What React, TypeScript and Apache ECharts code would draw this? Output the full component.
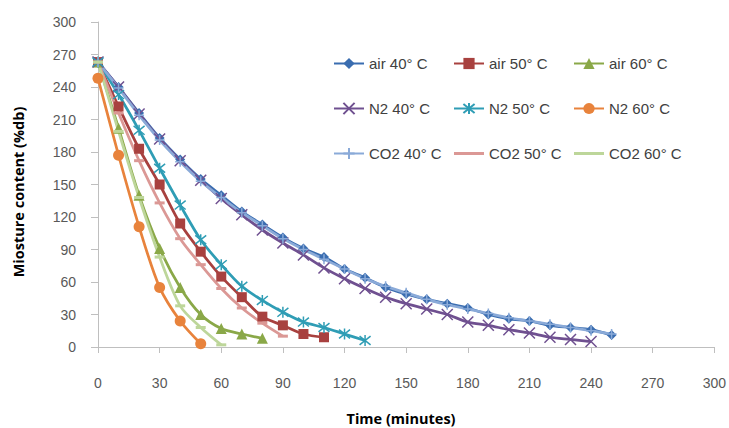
import React, { useEffect, useRef } from "react";
import * as echarts from "echarts";

const times = [0, 10, 20, 30, 40, 50, 60, 70, 80, 90, 100, 110, 120, 130, 140, 150, 160, 170, 180, 190, 200, 210, 220, 230, 240, 250];

const air40 = [263, 240, 216, 193, 173, 155, 140, 125, 113, 101, 91, 83, 72, 64, 55, 49, 44, 40, 36, 30, 26, 24, 20, 18, 16, 11];
const air50 = [263, 222, 183, 150, 114, 88, 65, 46, 28, 20, 12, 9];
const air60 = [263, 202, 140, 91, 55, 30, 17, 12, 8];
const n240 = [263, 240, 215, 192, 172, 154, 137, 122, 108, 96, 85, 73, 63, 54, 46, 40, 35, 30, 23, 20, 16, 13, 9, 7, 5];
const n250 = [263, 233, 200, 165, 131, 99, 76, 56, 43, 32, 23, 18, 12, 6];
const n260 = [248, 177, 111, 55, 24, 3];
const co240 = [263, 239, 214, 191, 171, 153, 138, 124, 112, 100, 90, 81, 72, 63, 56, 50, 44, 39, 35, 31, 27, 24, 21, 18, 15, 12];
const co250 = [263, 216, 172, 133, 100, 76, 54, 36, 22, 10];
const co260 = [263, 199, 138, 83, 38, 18, 2];

const xTicks = { min: 0, max: 300, interval: 30 };
const yTicks = { min: 0, max: 300, interval: 30 };
const xTitle = "Time (minutes)";
const yTitle = "Miosture content (%db)";

const pair = (vals: number[]) => vals.map((v, i) => [times[i], v]);

const X_PATH = "path://M1 1L9 9M9 1L1 9";
const STAR_PATH = "path://M1 1L9 9M9 1L1 9M5 0L5 10";
const PLUS_PATH = "path://M5 0L5 10M0 5L10 5";
const LINE_ICON = "path://M0 0L30 0L30 3L0 3Z";

export default function App() {
  const ref = useRef<HTMLDivElement>(null);
  useEffect(() => {
    if (!ref.current) return;
    const chart = echarts.init(ref.current, null, { renderer: "svg" });
    const mk = (
      name: string,
      vals: number[],
      color: string,
      symbol: string,
      symbolSize: any,
      stroke: boolean
    ) => ({
      name,
      type: "line",
      data: pair(vals),
      smooth: 0.3,
      color,
      symbol,
      symbolSize,
      showSymbol: true,
      lineStyle: { color, width: 2.75 },
      itemStyle: stroke
        ? { color, borderColor: color, borderWidth: 1.5 }
        : { color, borderWidth: 0 },
    });
    const legendBase = {
      orient: "vertical",
      padding: 0,
      itemWidth: 30,
      itemHeight: 14,
      itemGap: 30,
      textStyle: { fontFamily: "Liberation Sans", fontSize: 15, color: "#404040" },
    };
    const titleStyle = {
      fontFamily: "Open Sans",
      fontWeight: "bold",
      fontSize: 14.5,
      fill: "#000",
      align: "center",
      verticalAlign: "middle",
    };
    chart.setOption({
      animation: false,
      backgroundColor: "#ffffff",
      grid: { left: 98, right: 14, top: 22, bottom: 81, containLabel: false },
      legend: [
        { ...legendBase, left: 333, top: 56, data: ["air 40° C", "N2 40° C", "CO2 40° C"] },
        { ...legendBase, left: 453, top: 56, data: ["air 50° C", "N2 50° C", { name: "CO2 50° C", icon: LINE_ICON }] },
        { ...legendBase, left: 573, top: 56, data: ["air 60° C", "N2 60° C", { name: "CO2 60° C", icon: LINE_ICON }] },
      ],
      graphic: [
        { type: "text", x: 401, y: 418, style: { ...titleStyle, text: xTitle } },
        { type: "text", x: 18, y: 192, rotation: Math.PI / 2, style: { ...titleStyle, text: yTitle } },
      ],
      xAxis: {
        type: "value",
        ...xTicks,
        axisLine: { show: true, lineStyle: { color: "#BFBFBF", width: 1 } },
        axisTick: { show: true, length: 6, lineStyle: { color: "#BFBFBF" } },
        axisLabel: { margin: 29, fontFamily: "Liberation Sans", fontSize: 14, color: "#595959" },
        splitLine: { show: false },
      },
      yAxis: {
        type: "value",
        ...yTicks,
        axisLine: { show: true, lineStyle: { color: "#BFBFBF", width: 1 } },
        axisTick: { show: true, length: 7, lineStyle: { color: "#BFBFBF" } },
        axisLabel: { margin: 22, fontFamily: "Liberation Sans", fontSize: 14, color: "#595959" },
        splitLine: { show: false },
      },
      series: [
        mk("air 40° C", air40, "#3A6DB0", "diamond", 10, false),
        mk("air 50° C", air50, "#A8413F", "rect", 10, false),
        mk("air 60° C", air60, "#8AA848", "triangle", 11, false),
        mk("N2 40° C", n240, "#6F5090", X_PATH, 11, true),
        mk("N2 50° C", n250, "#2F9DB5", STAR_PATH, 11, true),
        mk("N2 60° C", n260, "#E8833C", "circle", 11, false),
        mk("CO2 40° C", co240, "#8AAAD8", PLUS_PATH, 10, true),
        mk("CO2 50° C", co250, "#DB9895", "rect", [10, 3], false),
        mk("CO2 60° C", co260, "#BDD69A", "rect", [10, 3], false),
      ],
    });
    return () => chart.dispose();
  }, []);
  return <div ref={ref} style={{ width: 729, height: 428, position: "fixed", left: 0, top: 0 }} />;
}
